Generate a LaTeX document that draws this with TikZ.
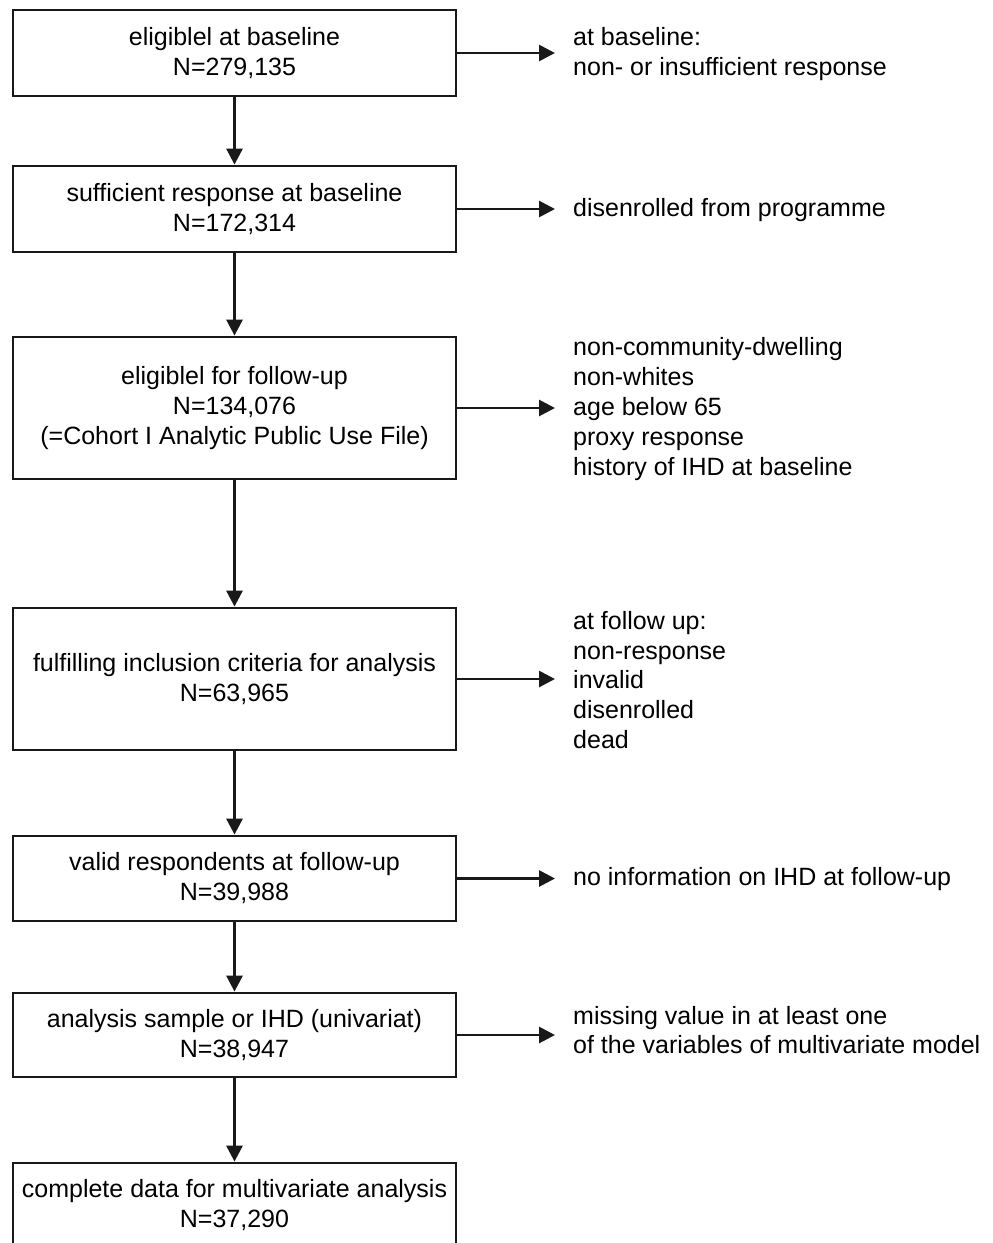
\documentclass[tikz,border=0pt]{standalone}
\usepackage{fontspec}
\setmainfont{Liberation Sans}
\usetikzlibrary{arrows.meta}
\begin{document}
\begin{tikzpicture}[x=1pt,y=-1pt,
  flowbox/.style={draw=black!90, line width=2.8pt, minimum width=443pt, inner sep=0pt, align=center,
    font=\fontsize{25}{30}\selectfont},
  sidetext/.style={anchor=west, inner sep=0pt, align=left, font=\fontsize{25}{29.8}\selectfont},
  conn/.style={draw=black!90, line width=2.8pt, -{Triangle[length=16pt,width=16pt]}}]
\clip (0,0) rectangle (993,1243);
\fill[white] (0,0) rectangle (993,1243);

\node[flowbox, minimum height=86pt] (b1) at (234.5,53) {eligiblel at baseline\\N=279,135};
\node[flowbox, minimum height=86pt] (b2) at (234.5,209) {sufficient response at baseline\\N=172,314};
\node[flowbox, minimum height=142pt] (b3) at (234.5,408) {eligiblel for follow-up\\N=134,076\\(=Cohort I Analytic Public Use File)};
\node[flowbox, minimum height=142pt] (b4) at (234.5,679) {fulfilling inclusion criteria for analysis\\N=63,965};
\node[flowbox, minimum height=85pt] (b5) at (234.5,878.5) {valid respondents at follow-up\\N=39,988};
\node[flowbox, minimum height=84pt] (b6) at (234.5,1035) {analysis sample or IHD (univariat)\\N=38,947};
\node[flowbox, minimum height=84pt] (b7) at (234.5,1205) {complete data for multivariate analysis\\N=37,290};

\node[sidetext] (t1) at (573,54) {at baseline:\\non- or insufficient response};
\node[sidetext] (t2) at (573,210) {disenrolled from programme};
\node[sidetext] (t3) at (573,409) {non-community-dwelling\\non-whites\\age below 65\\proxy response\\history of IHD at baseline};
\node[sidetext] (t4) at (573,680) {at follow up:\\non-response\\invalid\\disenrolled\\dead};
\node[sidetext] (t5) at (573,879) {no information on IHD at follow-up};
\node[sidetext] (t6) at (573,1030) {missing value in at least one\\of the variables of multivariate model};

\draw[conn] (b1.south) -- (b2.north);
\draw[conn] (b2.south) -- (b3.north);
\draw[conn] (b3.south) -- (b4.north);
\draw[conn] (b4.south) -- (b5.north);
\draw[conn] (b5.south) -- (b6.north);
\draw[conn] (b6.south) -- (b7.north);

\draw[conn, shorten >=18pt] (b1.east) -- (b1.east -| t1.west);
\draw[conn, shorten >=18pt] (b2.east) -- (b2.east -| t2.west);
\draw[conn, shorten >=18pt] (b3.east) -- (b3.east -| t3.west);
\draw[conn, shorten >=18pt] (b4.east) -- (b4.east -| t4.west);
\draw[conn, shorten >=18pt] (b5.east) -- (b5.east -| t5.west);
\draw[conn, shorten >=18pt] (b6.east) -- (b6.east -| t6.west);
\end{tikzpicture}
\end{document}
